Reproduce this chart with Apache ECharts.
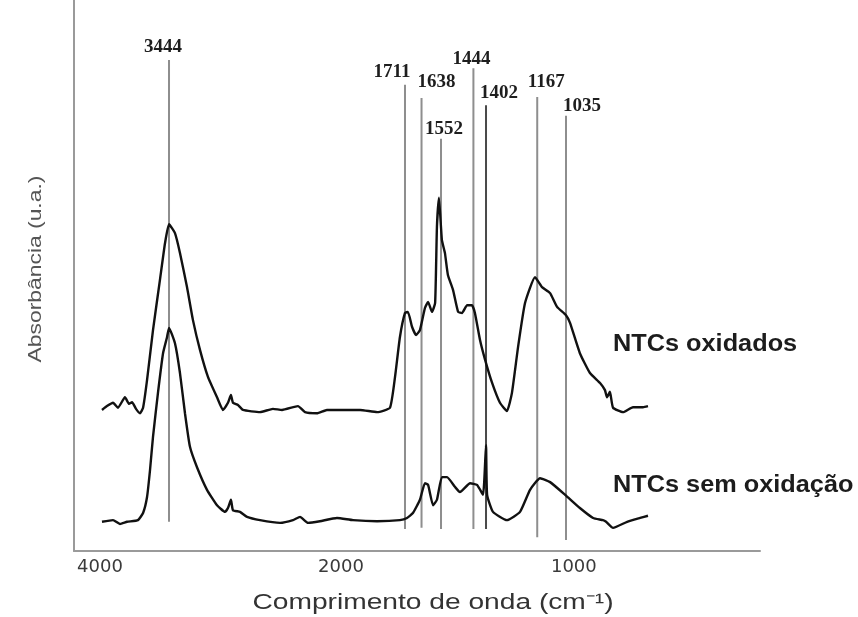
<!DOCTYPE html>
<html>
<head>
<meta charset="utf-8">
<title>FTIR – NTCs</title>
<script src="https://cdn.jsdelivr.net/npm/echarts@6/dist/echarts.min.js"></script>
<style>
  html, body { margin: 0; padding: 0; background: #fff; }
  #chart { width: 858px; height: 617px; }
</style>
</head>
<body>
<div id="chart"></div>
<script>
// Wavenumber (cm-1) and absorbance (u.a.) of the oxidised nanotubes
const OXI_WN = [3984,3944,3895,3855,3799,3766,3742,3710,3678,3653,3621,3573,3517,3476,3444,3394,3352,3293,3243,3184,3117,3041,2991,2949,2924,2907,2865,2823,2680,2571,2495,2361,2302,2202,2118,2000,1914,1837,1779,1756,1734,1711,1698,1680,1662,1645,1623,1609,1592,1578,1570,1561,1549,1539,1529,1512,1495,1482,1465,1449,1439,1422,1405,1374,1338,1306,1283,1255,1223,1177,1145,1108,1076,1035,1017,973,928,883,861,852,839,825,780,736,691,669];
const OXI_ABS = [25.6,26.3,26.9,26.0,27.9,26.7,27.0,25.8,25.0,26.0,31.0,40.1,49.2,55.9,59.3,57.7,54.1,47.9,41.9,36.5,31.6,27.9,25.6,26.9,28.3,26.9,26.5,25.6,25.2,25.8,25.6,26.3,25.2,25.0,25.6,25.6,25.6,25.2,26.0,31.6,38.8,43.2,43.4,40.7,39.2,40.1,44.1,45.2,43.4,45.0,58.8,64.1,56.4,54.1,50.1,47.4,43.4,43.2,44.6,44.6,43.2,38.3,34.7,30.5,26.9,25.4,28.7,37.0,45.0,49.7,47.9,46.8,44.3,42.8,41.4,35.9,32.3,30.5,29.2,27.9,28.9,26.0,25.2,26.1,26.1,26.3];

// Wavenumber (cm-1) and absorbance (u.a.) of the untreated nanotubes
const RAW_WN = [3984,3895,3839,3782,3694,3653,3621,3597,3573,3533,3492,3460,3444,3394,3352,3310,3268,3209,3125,3041,2974,2949,2924,2907,2848,2789,2680,2512,2403,2344,2277,2177,2034,1946,1837,1734,1702,1676,1645,1623,1609,1587,1570,1549,1532,1505,1489,1455,1432,1412,1402,1397,1370,1306,1246,1200,1154,1108,1039,973,914,870,856,825,762,704,669];
const RAW_ABS = [5.3,5.6,4.9,5.3,5.6,6.9,9.8,14.7,20.7,28.7,35.9,38.8,40.5,37.7,32.3,25.0,18.9,15.2,11.1,8.3,7.1,7.8,9.3,7.4,7.1,6.2,5.6,5.1,5.6,6.2,5.1,5.4,6.0,5.6,5.4,5.6,6.0,6.9,9.3,12.3,12.0,8.3,9.3,13.4,13.4,11.6,10.7,12.3,12.0,10.2,19.2,10.2,7.1,5.6,7.1,11.1,13.2,12.5,10.2,7.8,6.0,5.6,5.3,4.2,5.3,6.0,6.4];

// Assigned bands and the vertical extent (u.a.) of their marker lines
const PEAK_WN = [3444,1711,1638,1552,1444,1402,1167,1035];
const PEAK_LINE_TOP = [89.1,84.6,82.2,75.1,87.7,80.9,82.4,80.0];
const PEAK_LINE_BOTTOM = [5.3,4.0,4.2,4.0,4.0,4.0,2.5,2.0];

// Tick labels of the wavenumber axis
const X_TICKS = [4000, 2000, 1000];

const SERIES_NAMES = ['NTCs oxidados', 'NTCs sem oxidação'];

// Non-uniform wavenumber scale (expanded below 2000 cm-1):
// control points [wavenumber, axis position on a 0..1000 scale]
const WARP = [[4000,37.9],[3444,138.5],[2000,389.2],[1711,482.5],[1552,535.0],[1402,600.6],[1035,717.2]];
const SLOPE_HIGH = 0.1808;   // axis units per cm-1 above 4000
const SLOPE_LOW = 0.3265;    // axis units per cm-1 below 1035

function warp(wn) {
  const first = WARP[0], last = WARP[WARP.length - 1];
  if (wn >= first[0]) return first[1] - (wn - first[0]) * SLOPE_HIGH;
  if (wn <= last[0]) return last[1] + (last[0] - wn) * SLOPE_LOW;
  for (let i = 0; i < WARP.length - 1; i++) {
    const a = WARP[i], b = WARP[i + 1];
    if (wn <= a[0] && wn >= b[0]) {
      return a[1] + (a[0] - wn) / (a[0] - b[0]) * (b[1] - a[1]);
    }
  }
  return 0;
}

// Per-label placement relative to the top of its marker line (px) and line tone
const LABEL_SHIFT = [[-6,-13],[-13,-13],[15,-16],[3,-8],[-2,-9],[13,-12],[9,-15],[16,-4]];
const LINE_TONE = ['#8e8e8e','#8e8e8e','#8e8e8e','#8e8e8e','#8e8e8e','#4a4a4a','#8e8e8e','#8e8e8e'];

const oxiData = OXI_WN.map((w, i) => [warp(w), OXI_ABS[i]]);
const rawData = RAW_WN.map((w, i) => [warp(w), RAW_ABS[i]]);
const peakData = PEAK_WN.map((w, i) => [warp(w), PEAK_LINE_TOP[i], PEAK_LINE_BOTTOM[i], w, i]);

const chart = echarts.init(document.getElementById('chart'), null, { renderer: 'canvas' });

const axisGray = '#9a9a9a';

chart.setOption({
  animation: false,
  backgroundColor: '#ffffff',
  grid: { left: 74, right: 98, top: 0, bottom: 66 },
  xAxis: {
    type: 'value',
    min: 0,
    max: 1000,
    axisLine: { show: true, onZero: false, lineStyle: { color: axisGray, width: 2 } },
    axisTick: { show: false },
    splitLine: { show: false },
    axisLabel: {
      customValues: X_TICKS.map(warp),
      margin: 7,
      color: '#3a3a3a',
      fontFamily: 'DejaVu Sans',
      fontSize: 18,
      formatter: function (v) {
        let best = X_TICKS[0];
        X_TICKS.forEach(t => { if (Math.abs(warp(t) - v) < Math.abs(warp(best) - v)) best = t; });
        return String(best);
      }
    }
  },
  yAxis: {
    type: 'value',
    min: 0,
    max: 100,
    axisLine: { show: true, onZero: false, lineStyle: { color: axisGray, width: 2 } },
    axisTick: { show: false },
    axisLabel: { show: false },
    splitLine: { show: false }
  },
  series: [
    {
      type: 'custom',
      name: 'bands',
      z: 1,
      data: peakData,
      renderItem: function (params, api) {
        const u = api.value(0);
        const top = api.coord([u, api.value(1)]);
        const bot = api.coord([u, api.value(2)]);
        const idx = api.value(4);
        const shift = LABEL_SHIFT[idx];
        return {
          type: 'group',
          children: [
            {
              type: 'line',
              shape: { x1: top[0], y1: top[1], x2: bot[0], y2: bot[1] },
              style: { stroke: LINE_TONE[idx], lineWidth: 2 }
            },
            {
              type: 'text',
              x: top[0] + shift[0],
              y: top[1] + shift[1],
              style: {
                text: String(api.value(3)),
                font: 'bold 19px "Liberation Serif", "DejaVu Serif", serif',
                fill: '#1e1e1e',
                align: 'center',
                verticalAlign: 'middle',
                backgroundColor: '#ffffff',
                padding: [0, 1]
              }
            }
          ]
        };
      }
    },
    {
      type: 'line',
      name: SERIES_NAMES[0],
      z: 3,
      data: oxiData,
      showSymbol: false,
      smooth: 0.15,
      lineStyle: { color: '#111111', width: 2.4 }
    },
    {
      type: 'line',
      name: SERIES_NAMES[1],
      z: 3,
      data: rawData,
      showSymbol: false,
      smooth: 0.15,
      lineStyle: { color: '#111111', width: 2.4 }
    }
  ],
  graphic: [
    {
      type: 'text',
      x: 613, y: 345,
      scaleX: 1.1,
      style: {
        text: SERIES_NAMES[0],
        font: 'bold 23px "Liberation Sans", Arial, sans-serif',
        fill: '#1c1c1c',
        align: 'left',
        verticalAlign: 'middle'
      }
    },
    {
      type: 'text',
      x: 613, y: 486,
      scaleX: 1.1,
      style: {
        text: SERIES_NAMES[1],
        font: 'bold 23px "Liberation Sans", Arial, sans-serif',
        fill: '#1c1c1c',
        align: 'left',
        verticalAlign: 'middle'
      }
    },
    {
      type: 'text',
      x: 433, y: 603,
      scaleX: 1.28,
      style: {
        text: 'Comprimento de onda (cm⁻¹)',
        font: '22px "Liberation Sans", Arial, sans-serif',
        fill: '#333333',
        align: 'center',
        verticalAlign: 'middle'
      }
    },
    {
      type: 'text',
      x: 36, y: 269,
      rotation: Math.PI / 2,
      scaleX: 1.27,
      style: {
        text: 'Absorbância (u.a.)',
        font: '18px "Liberation Sans", Arial, sans-serif',
        fill: '#555555',
        align: 'center',
        verticalAlign: 'middle'
      }
    }
  ]
});
</script>
</body>
</html>
